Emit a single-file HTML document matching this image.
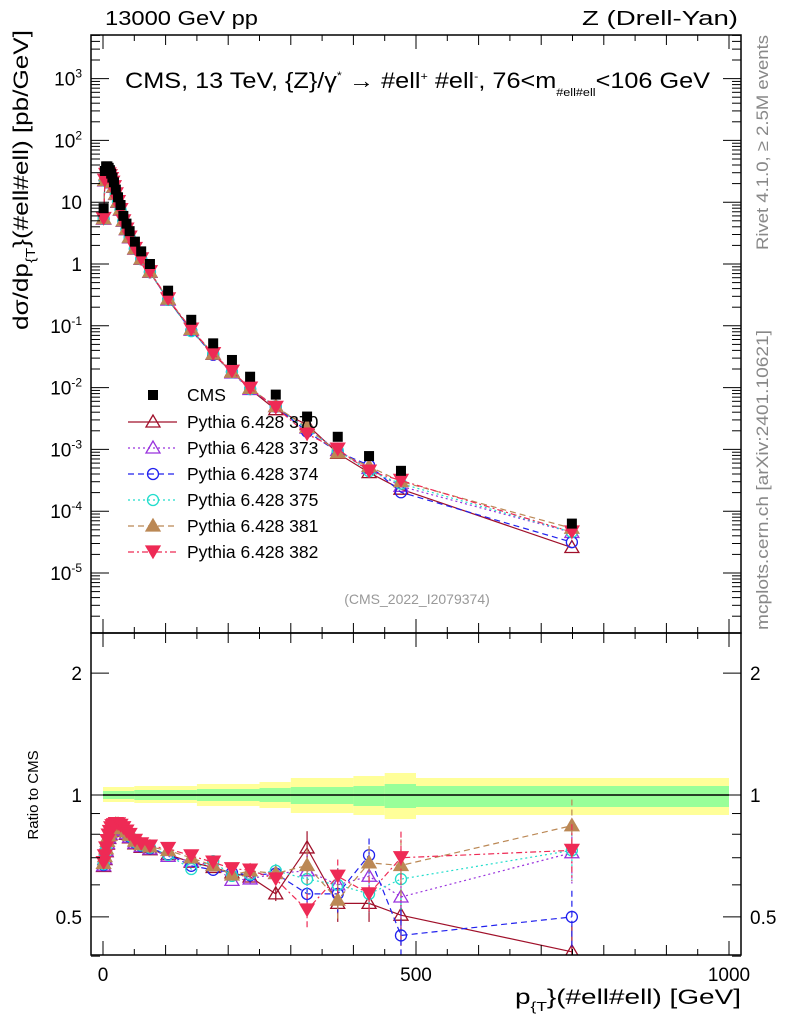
<!DOCTYPE html>
<html><head><meta charset="utf-8"><style>
body{margin:0;background:#fff;}
svg{font-family:"Liberation Sans",sans-serif;}
</style></head><body>
<svg id="s" width="786" height="1024" xmlns="http://www.w3.org/2000/svg">
<defs>
<clipPath id="ct"><rect x="91" y="35" width="650" height="598"/></clipPath>
<clipPath id="cr"><rect x="91" y="633" width="650" height="322"/></clipPath>
</defs>
<rect width="786" height="1024" fill="#fff"/>
<g id="bands"></g>
<g id="seriesT" clip-path="url(#ct)"></g>
<g id="seriesR" clip-path="url(#cr)"></g>
<g id="frame" fill="none" stroke="#000" stroke-width="1.5">
<rect x="91" y="35" width="650" height="598"/>
<rect x="91" y="633" width="650" height="322"/>
</g>
<g id="ticks" stroke="#000" stroke-width="1"></g>
<g font-size="20">
<text x="105" y="25" textLength="153" lengthAdjust="spacingAndGlyphs">13000 GeV pp</text>
<text x="582" y="25" textLength="156" lengthAdjust="spacingAndGlyphs">Z (Drell-Yan)</text>
</g>
<text x="125" y="88" font-size="22" textLength="585" lengthAdjust="spacingAndGlyphs">CMS, 13 TeV, {Z}/γ<tspan dy="-9" font-size="11">*</tspan><tspan dy="9">  →  #ell</tspan><tspan dy="-8" font-size="11">+</tspan><tspan dy="8"> #ell</tspan><tspan dy="-8" font-size="11">-</tspan><tspan dy="8">, 76&lt;m</tspan><tspan dy="8" font-size="11">#ell#ell</tspan><tspan dy="-8">&lt;106 GeV</tspan></text>
<text x="417" y="604" font-size="14" fill="#999" text-anchor="middle">(CMS_2022_I2079374)</text>
<g font-size="17" fill="#888">
<text transform="translate(768,250) rotate(-90)" textLength="215" lengthAdjust="spacingAndGlyphs">Rivet 4.1.0, ≥ 2.5M events</text>
<text transform="translate(768,630) rotate(-90)" textLength="300" lengthAdjust="spacingAndGlyphs">mcplots.cern.ch [arXiv:2401.10621]</text>
</g>
<text transform="translate(28,330) rotate(-90)" font-size="21" textLength="300" lengthAdjust="spacingAndGlyphs">dσ/dp<tspan dy="7" font-size="13">{T</tspan><tspan dy="-7">}(#ell#ell) [pb/GeV]</tspan></text>
<text transform="translate(38,795) rotate(-90)" font-size="15" text-anchor="middle">Ratio to CMS</text>
<text x="515" y="1004" font-size="21" textLength="226" lengthAdjust="spacingAndGlyphs">p<tspan dy="7" font-size="13">{T</tspan><tspan dy="-7">}(#ell#ell) [GeV]</tspan></text>
<g font-size="19" text-anchor="middle">
<text x="103" y="981">0</text><text x="416" y="981">500</text><text x="729" y="981">1000</text>
</g>
<g font-size="19" text-anchor="end">
<text x="82" y="680">2</text><text x="82" y="802">1</text><text x="82" y="924">0.5</text>
</g>
<g font-size="19">
<text x="750" y="680">2</text><text x="750" y="802">1</text><text x="750" y="924">0.5</text>
</g>
<g id="ylab" font-size="19" text-anchor="end"></g>
<g id="legend" font-size="17.5"></g>
</svg>
<script>
const NS="http://www.w3.org/2000/svg";
function el(p,t,a,txt){const e=document.createElementNS(NS,t);for(const k in a)e.setAttribute(k,a[k]);if(txt!==undefined)e.textContent=txt;p.appendChild(e);return e;}
const X=p=>103+0.626*p, YT=v=>264-61.8*Math.log10(v), YR=r=>795-405*Math.log10(r);
const tk=document.getElementById('ticks');
for(let p=0;p<=1000;p+=50){const big=p%500==0;const x=X(p);
 [[633,-1],[35,1],[955,-1],[633,1]].forEach(([y,d])=>el(tk,'line',{x1:x,x2:x,y1:y,y2:y+d*(p%100==0?(big?14:10):6)}));}
const yl=document.getElementById('ylab');
for(let e=-6;e<=3;e++){for(let m=1;m<10;m++){const v=m*Math.pow(10,e);const y=YT(v);if(y<35||y>633)continue;const L=m==1?18:9;
 el(tk,'line',{x1:91,x2:91+L,y1:y,y2:y});el(tk,'line',{x1:741,x2:741-L,y1:y,y2:y});}
 const y=YT(Math.pow(10,e));if(y<35||y>633)continue;
 if(e==0)el(yl,'text',{x:82,y:y+7},'1');else if(e==1)el(yl,'text',{x:82,y:y+7},'10');
 else{const t=el(yl,'text',{x:82,y:y+7});el(t,'tspan',{},'10');el(t,'tspan',{dy:-8,'font-size':12},String(e));}
}
[0.4,0.5,0.6,0.7,0.8,0.9,1,2].forEach(r=>{const y=YR(r);const L=(r==1||r==2||r==0.5)?18:9;el(tk,'line',{x1:91,x2:91+L,y1:y,y2:y});el(tk,'line',{x1:741,x2:741-L,y1:y,y2:y});});
const bd=document.getElementById('bands');
const bins=[[0,50,787,802,791,799],[50,150,786,803,790,800],[150,250,784,806,789,801],[250,300,782,808,788,802],[300,400,778,813,787,804],[400,450,776,815,786,806],[450,500,773,819,784,808],[500,1000,778,815,786,807]];
bins.forEach(b=>{el(bd,'rect',{x:X(b[0]),y:b[2],width:X(b[1])-X(b[0]),height:b[3]-b[2],fill:'#ffff99'});});
bins.forEach(b=>{el(bd,'rect',{x:X(b[0]),y:b[4],width:X(b[1])-X(b[0]),height:b[5]-b[4],fill:'#99ff99'});});
el(bd,'line',{x1:X(0),x2:X(1000),y1:795,y2:795,stroke:'#000','stroke-width':1.5});
const tab=[[1,8],[3,32],[5,38],[7,38],[9,36],[11,33],[13,29],[15,25],[17.5,21],[20.5,16],[24,12],[28,9],[32.5,6],[37.5,4.5],[42.5,3.4],[51,2.3],[61,1.6],[75,1.0],[104,0.37],[141,0.125],[176,0.052],[206,0.028],[235,0.015],[276,0.0077],[326,0.0034],[375,0.0016],[425,0.00078],[476,0.00045],[749,0.000063]];
const pts=tab.map(t=>t[0]);
const rk=[[0,0.66],[3,0.7],[8,0.78],[14,0.83],[22,0.845],[30,0.83],[51,0.765],[61,0.75],[75,0.74],[104,0.72],[141,0.69],[176,0.665],[206,0.64],[235,0.635],[276,0.62]];
function rbase(p){for(let i=1;i<rk.length;i++){if(p<=rk[i][0]){const a=rk[i-1],b=rk[i];return a[1]+(b[1]-a[1])*(p-a[0])/(b[0]-a[0]);}}return 0.62;}
const spec={370:[0.57,0.74,0.54,0.54,0.505,0.41],373:[0.64,0.65,0.60,0.63,0.56,0.72],374:[0.64,0.57,0.57,0.71,0.45,0.50],375:[0.65,0.62,0.60,0.57,0.62,0.73],381:[0.64,0.67,0.55,0.68,0.67,0.84],382:[0.62,0.52,0.63,0.57,0.70,0.73]};
const S=[
 {id:370,c:'#a0102a',dash:'',m:'tri',fill:'none'},
 {id:373,c:'#9933dd',dash:'2,3',m:'tri',fill:'none'},
 {id:374,c:'#2020ee',dash:'6,4',m:'circ',fill:'none'},
 {id:375,c:'#22ddcc',dash:'2,3',m:'circ',fill:'none'},
 {id:381,c:'#bb8855',dash:'6,4',m:'tri',fill:'#bb8855'},
 {id:382,c:'#ee2a55',dash:'6,3,2,3',m:'itri',fill:'#ee2a55'}];
const gT=document.getElementById('seriesT'),gR=document.getElementById('seriesR');
function marker(par,s,x,y){
 if(s.m=='tri')el(par,'polygon',{points:`${x},${y-7} ${x-7},${y+5} ${x+7},${y+5}`,fill:s.fill,stroke:s.c,'stroke-width':1.3});
 else if(s.m=='itri')el(par,'polygon',{points:`${x},${y+6} ${x-7},${y-6} ${x+7},${y-6}`,fill:s.fill,stroke:s.c,'stroke-width':1.3});
 else el(par,'circle',{cx:x,cy:y,r:5.5,fill:'none',stroke:s.c,'stroke-width':1.3});
}
const hi=[276,326,375,425,476,749];
const jit={370:[0,0,0,0.005,0.01,0],373:[0,-0.01,0,0.01,-0.02,-0.01],374:[0,-0.005,-0.02,-0.01,0.005,0],375:[0,-0.01,-0.035,0.02,-0.01,0],381:[0,0.005,0.005,0,-0.01,0.01],382:[0,0.01,0.01,0.01,0.01,0.01]};
S.forEach((s,si)=>{
 const rs=pts.map((p,i)=>{const hiI=hi.indexOf(p);if(hiI>=0)return spec[s.id][hiI];
   let r=rbase(p)+(si-2.5)*0.003;if(p>=104){const k=[104,141,176,206,235].indexOf(p);r+=jit[s.id][k+1]||0;}return r;});
 let dT='',dR='';
 pts.forEach((p,i)=>{const x=X(p);dT+=(i?'L':'M')+x+','+YT(tab[i][1]*rs[i]);dR+=(i?'L':'M')+x+','+YR(rs[i]);});
 el(gT,'path',{d:dT,fill:'none',stroke:s.c,'stroke-width':1.2,'stroke-dasharray':s.dash});
 el(gR,'path',{d:dR,fill:'none',stroke:s.c,'stroke-width':1.2,'stroke-dasharray':s.dash});
 pts.forEach((p,i)=>{const x=X(p);
  if(p>=235){const e=p>=476?0.16:(p>=326?0.1:0.04);const y1=YR(rs[i]*(1+e)),y2=YR(rs[i]*(1-e));el(gR,'line',{x1:x,x2:x,y1:y1,y2:y2,stroke:s.c,'stroke-width':1.2,'stroke-dasharray':s.dash});}
  marker(gT,s,x,YT(tab[i][1]*rs[i]));marker(gR,s,x,YR(rs[i]));});
});
tab.forEach(t=>{const x=X(t[0]),y=YT(t[1]);el(gT,'rect',{x:x-5,y:y-5,width:10,height:10,fill:'#000'});});
const lg=document.getElementById('legend');
el(lg,'rect',{x:148,y:390,width:10,height:10,fill:'#000'});el(lg,'text',{x:187,y:401},'CMS');
S.forEach((s,i)=>{const y=422+i*26;el(lg,'line',{x1:128,x2:177,y1:y,y2:y,stroke:s.c,'stroke-width':1.2,'stroke-dasharray':s.dash});marker(lg,s,153,y);el(lg,'text',{x:187,y:y+6},'Pythia 6.428 '+s.id);});
</script>
</body></html>
